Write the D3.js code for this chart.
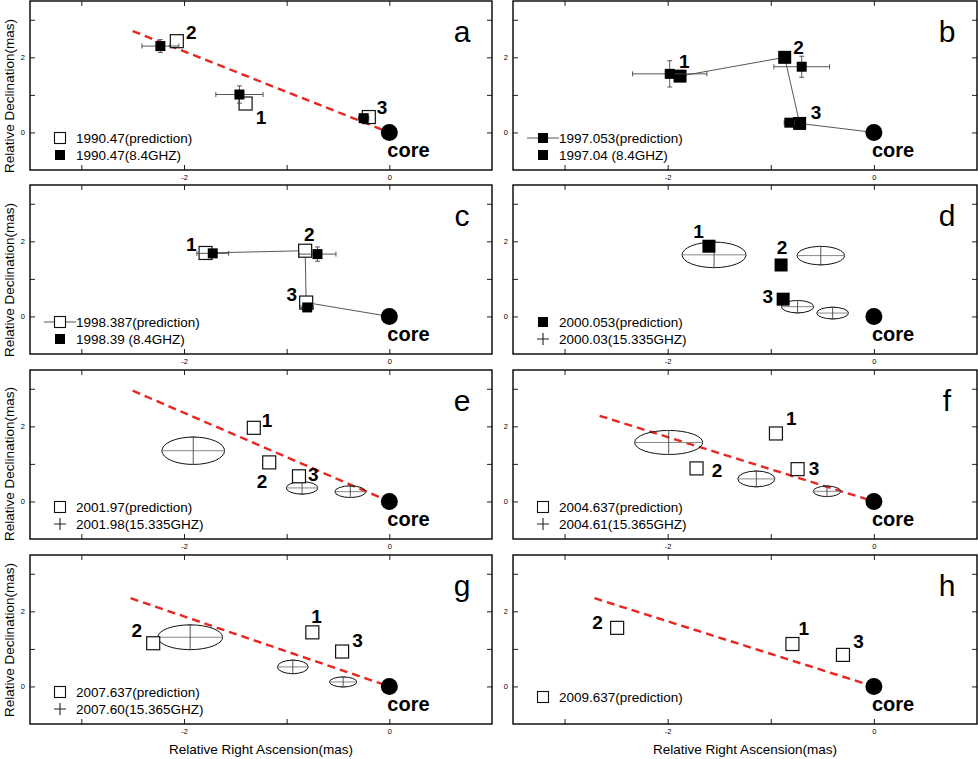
<!DOCTYPE html>
<html>
<head>
<meta charset="utf-8">
<script src="https://cdn.jsdelivr.net/npm/d3@7"></script>
<style>
  body { margin: 0; background: #fff; }
  svg { display: block; font-family: "Liberation Sans", Arial, sans-serif; }
</style>
</head>
<body>
<svg width="978" height="759"></svg>
<script>
// ---- data (mas) ----
const panelIds = ["a", "b", "c", "d", "e", "f", "g", "h"];

const xTickVals = [-3, -2, -1, 0];
const xTickText = ["", "-2", "", "0"];
const yTickVals = [0, 1, 2, 3];
const yTickText = ["0", "", "2", ""];

// prediction positions of components 1,2,3  [x, y]
const predA = [[-1.40, 0.77], [-2.07, 2.43], [-0.20, 0.41]];
const predB = [[-1.88, 1.50], [-0.865, 2.00], [-0.72, 0.24]];
const predC = [[-1.79, 1.69], [-0.82, 1.75], [-0.81, 0.37]];
const predD = [[-1.60, 1.87], [-0.90, 1.37], [-0.88, 0.46]];
const predE = [[-1.32, 1.96], [-1.17, 1.04], [-0.88, 0.67]];
const predF = [[-0.95, 1.81], [-1.72, 0.88], [-0.74, 0.86]];
const predG = [[-0.75, 1.44], [-2.30, 1.15], [-0.46, 0.93]];
const predH = [[-0.79, 1.13], [-2.49, 1.56], [-0.30, 0.84]];

// 8.4 GHz measured positions  [x, y, xErr, yErr]
const obsA = [[-1.46, 1.01, 0.23, 0.23], [-2.23, 2.30, 0.18, 0.17], [-0.25, 0.38, 0.05, 0.03]];
const obsB = [[-1.98, 1.56, 0.36, 0.35], [-0.70, 1.75, 0.27, 0.28], [-0.82, 0.26, 0.05, 0.03]];
const obsC = [[-1.72, 1.68, 0.155, 0.05], [-0.70, 1.66, 0.18, 0.19], [-0.80, 0.24, 0.06, 0.03]];

// 15 GHz components  [x, y, xErr, yErr]
const ellD = [[-1.55, 1.64, 0.31, 0.34], [-0.515, 1.62, 0.23, 0.245], [-0.74, 0.26, 0.157, 0.165], [-0.40, 0.09, 0.154, 0.156]];
const ellE = [[-1.91, 1.35, 0.305, 0.365], [-0.85, 0.36, 0.154, 0.165], [-0.38, 0.26, 0.15, 0.155]];
const ellF = [[-1.99, 1.57, 0.33, 0.32], [-1.14, 0.60, 0.18, 0.21], [-0.455, 0.27, 0.133, 0.14]];
const ellG = [[-1.94, 1.31, 0.316, 0.33], [-0.94, 0.52, 0.15, 0.18], [-0.45, 0.12, 0.133, 0.133]];

// component labels  [text, x, y]
const labA = [["1", -1.25, 0.41], ["2", -1.93, 2.67], ["3", -0.07, 0.69]];
const labB = [["1", -1.84, 1.90], ["2", -0.73, 2.28], ["3", -0.56, 0.55]];
const labC = [["1", -1.93, 1.93], ["2", -0.78, 2.20], ["3", -0.95, 0.61]];
const labD = [["1", -1.70, 2.28], ["2", -0.89, 1.86], ["3", -1.03, 0.55]];
const labE = [["1", -1.19, 2.18], ["2", -1.24, 0.55], ["3", -0.74, 0.73]];
const labF = [["1", -0.80, 2.21], ["2", -1.52, 0.84], ["3", -0.58, 0.88]];
const labG = [["1", -0.71, 1.88], ["2", -2.46, 1.50], ["3", -0.31, 1.24]];
const labH = [["1", -0.68, 1.56], ["2", -2.68, 1.71], ["3", -0.15, 1.20]];

// dashed jet direction lines
const jetA = [[-2.50, 2.70], [0, 0]];
const jetE = [[-2.50, 2.95], [0, 0]];
const jetF = [[-2.66, 2.28], [0, 0]];
const jetG = [[-2.52, 2.35], [0, 0]];
const jetH = [[-2.71, 2.35], [0, 0]];

const legA = ["1990.47(prediction)", "1990.47(8.4GHZ)"];
const legB = ["1997.053(prediction)", "1997.04 (8.4GHZ)"];
const legC = ["1998.387(prediction)", "1998.39 (8.4GHZ)"];
const legD = ["2000.053(prediction)", "2000.03(15.335GHZ)"];
const legE = ["2001.97(prediction)", "2001.98(15.335GHZ)"];
const legF = ["2004.637(prediction)", "2004.61(15.365GHZ)"];
const legG = ["2007.637(prediction)", "2007.60(15.365GHZ)"];
const legH = ["2009.637(prediction)"];

// per panel options built from the arrays above
const panels = [
  { id: "a", pred: predA, predFill: false, obs: obsA, lab: labA, jet: jetA, leg: legA, legType: ["open", "filled"] },
  { id: "b", pred: predB, predFill: true, obs: obsB, lab: labB, chain: true, leg: legB, legType: ["filledLine", "filled"] },
  { id: "c", pred: predC, predFill: false, obs: obsC, lab: labC, chain: true, leg: legC, legType: ["openLine", "filled"] },
  { id: "d", pred: predD, predFill: true, ell: ellD, lab: labD, leg: legD, legType: ["filled", "cross"] },
  { id: "e", pred: predE, predFill: false, ell: ellE, lab: labE, jet: jetE, leg: legE, legType: ["open", "cross"] },
  { id: "f", pred: predF, predFill: false, ell: ellF, lab: labF, jet: jetF, leg: legF, legType: ["open", "cross"] },
  { id: "g", pred: predG, predFill: false, ell: ellG, lab: labG, jet: jetG, leg: legG, legType: ["open", "cross"] },
  { id: "h", pred: predH, predFill: false, lab: labH, jet: jetH, leg: legH, legType: ["open"], legRow: [147] }
];

// ---- layout ----
const svg = d3.select("svg");
const colX = [[30, 492], [513, 977]];
const rowTop = [1, 185, 370, 555];
const panelH = 169;
const yTitleMid = [95, 95, 94, 85];
const ink = "#111";
const barColor = "#444";

panels.forEach((p, i) => {
  const col = i % 2, row = Math.floor(i / 2);
  const x = d3.scaleLinear().domain([-3.5, 1]).range(colX[col]);
  const y = d3.scaleLinear().domain([-1, 3.5]).range([rowTop[row] + panelH, rowTop[row]]);
  const g = svg.append("g");

  // axes, ticks pointing inward on all four sides
  const axB = g.append("g").attr("transform", `translate(0,${y(-1)})`)
    .call(d3.axisBottom(x).tickValues(xTickVals).tickSize(-5).tickPadding(5)
      .tickFormat((d, k) => xTickText[k]));
  const axT = g.append("g").attr("transform", `translate(0,${y(3.5)})`)
    .call(d3.axisTop(x).tickValues(xTickVals).tickSize(-5).tickFormat(""));
  const axL = g.append("g").attr("transform", `translate(${x(-3.5)},0)`)
    .call(d3.axisLeft(y).tickValues(yTickVals).tickSize(-5).tickPadding(5)
      .tickFormat((d, k) => yTickText[k]));
  const axR = g.append("g").attr("transform", `translate(${x(1)},0)`)
    .call(d3.axisRight(y).tickValues(yTickVals).tickSize(-5).tickFormat(""));
  [axB, axT, axL, axR].forEach(a => {
    a.select(".domain").remove();
    a.attr("font-family", null).attr("font-size", 7.5);
    a.selectAll("line").attr("stroke", "#222").attr("stroke-width", 1);
    a.selectAll("text").attr("fill", "#000");
  });

  g.append("rect")
    .attr("x", x(-3.5)).attr("y", y(3.5))
    .attr("width", x(1) - x(-3.5)).attr("height", y(-1) - y(3.5))
    .attr("fill", "none").attr("stroke", "#000").attr("stroke-width", 1.4);

  // jet direction
  if (p.jet) {
    g.append("path")
      .attr("d", d3.line().x(d => x(d[0])).y(d => y(d[1]))(p.jet))
      .attr("fill", "none").attr("stroke", "#e8261f")
      .attr("stroke-width", 2.4).attr("stroke-dasharray", "8,5");
  }

  // chain through predictions to the core
  if (p.chain) {
    const pts = p.pred.concat([[0, 0]]);
    g.append("path")
      .attr("d", d3.line().x(d => x(d[0])).y(d => y(d[1]))(pts))
      .attr("fill", "none").attr("stroke", "#444").attr("stroke-width", 0.9);
  }

  // 15 GHz ellipses with error crosses
  (p.ell || []).forEach(e => {
    const cx = x(e[0]), cy = y(e[1]);
    const rx = x(e[0] + e[2]) - cx, ry = cy - y(e[1] + e[3]);
    g.append("ellipse").attr("cx", cx).attr("cy", cy).attr("rx", rx).attr("ry", ry)
      .attr("fill", "none").attr("stroke", ink).attr("stroke-width", 1);
    g.append("line").attr("x1", cx - rx).attr("x2", cx + rx).attr("y1", cy).attr("y2", cy)
      .attr("stroke", "#888").attr("stroke-width", 1);
    g.append("line").attr("x1", cx).attr("x2", cx).attr("y1", cy - ry).attr("y2", cy + ry)
      .attr("stroke", barColor).attr("stroke-width", 0.9);
    [cy - ry, cy + ry].forEach(v => g.append("line")
      .attr("x1", cx - 2.5).attr("x2", cx + 2.5).attr("y1", v).attr("y2", v)
      .attr("stroke", barColor).attr("stroke-width", 0.9));
  });

  // prediction squares
  p.pred.forEach(d => {
    g.append("rect")
      .attr("x", x(d[0]) - 6.5).attr("y", y(d[1]) - 6.5)
      .attr("width", 13).attr("height", 13)
      .attr("fill", p.predFill ? "#000" : "#fff")
      .attr("stroke", p.predFill ? "none" : ink).attr("stroke-width", 1.2);
  });

  // 8.4 GHz measurements with error bars
  (p.obs || []).forEach(o => {
    const cx = x(o[0]), cy = y(o[1]);
    const x0 = x(o[0] - o[2]), x1 = x(o[0] + o[2]);
    const y0 = y(o[1] + o[3]), y1 = y(o[1] - o[3]);
    g.append("line").attr("x1", x0).attr("x2", x1).attr("y1", cy).attr("y2", cy)
      .attr("stroke", barColor).attr("stroke-width", 0.9);
    g.append("line").attr("x1", cx).attr("x2", cx).attr("y1", y0).attr("y2", y1)
      .attr("stroke", barColor).attr("stroke-width", 0.9);
    [x0, x1].forEach(v => g.append("line").attr("x1", v).attr("x2", v)
      .attr("y1", cy - 2.5).attr("y2", cy + 2.5).attr("stroke", barColor).attr("stroke-width", 0.9));
    [y0, y1].forEach(v => g.append("line").attr("y1", v).attr("y2", v)
      .attr("x1", cx - 2.5).attr("x2", cx + 2.5).attr("stroke", barColor).attr("stroke-width", 0.9));
    g.append("rect").attr("x", cx - 5).attr("y", cy - 5)
      .attr("width", 10).attr("height", 10).attr("fill", "#000");
  });

  // component numbers
  p.lab.forEach(l => {
    g.append("text").attr("x", x(l[1])).attr("y", y(l[2]) + 7)
      .attr("text-anchor", "middle").attr("font-size", 19).attr("font-weight", "bold")
      .text(l[0]);
  });

  // core
  g.append("circle").attr("cx", x(0)).attr("cy", y(0)).attr("r", 8.5).attr("fill", "#000");
  g.append("text").attr("x", x(0) - 2).attr("y", y(0) + 25)
    .attr("font-size", 20).attr("font-weight", "bold").text("core");

  // panel letter
  g.append("text").attr("x", x(1) - 30).attr("y", rowTop[row] + 41)
    .attr("text-anchor", "middle").attr("font-size", 30).text(p.id);

  // legend
  const lx = x(-3.5) + 30, tx = x(-3.5) + 46;
  const rows = p.legRow || [142, 159];
  p.leg.forEach((t, k) => {
    const ly = rowTop[row] + rows[k];
    const my = ly - 5;
    const type = p.legType[k];
    if (type.endsWith("Line")) {
      g.append("line").attr("x1", lx - 16).attr("x2", lx + 16).attr("y1", my).attr("y2", my)
        .attr("stroke", "#444").attr("stroke-width", 0.9);
    }
    if (type.startsWith("open")) {
      g.append("rect").attr("x", lx - 5.5).attr("y", my - 5.5).attr("width", 11).attr("height", 11)
        .attr("fill", "#fff").attr("stroke", ink).attr("stroke-width", 1.1);
    } else if (type.startsWith("filled")) {
      g.append("rect").attr("x", lx - 5).attr("y", my - 5).attr("width", 10).attr("height", 10)
        .attr("fill", "#000");
    } else {
      g.append("path").attr("d", `M${lx - 6},${my}H${lx + 6}M${lx},${my - 6}V${lx + 6 - lx + my}`)
        .attr("stroke", "#222").attr("stroke-width", 1.1);
    }
    g.append("text").attr("x", tx).attr("y", ly).attr("font-size", 13.5).text(t);
  });

  // axis titles
  if (col === 0) {
    const cy = rowTop[row] + yTitleMid[row];
    g.append("text").attr("transform", `translate(14,${cy}) rotate(-90)`)
      .attr("text-anchor", "middle").attr("font-size", 13.5).text("Relative Declination(mas)");
  }
  if (row === 3) {
    g.append("text").attr("x", (colX[col][0] + colX[col][1]) / 2).attr("y", 754)
      .attr("text-anchor", "middle").attr("font-size", 13.5).text("Relative Right Ascension(mas)");
  }
});
</script>
</body>
</html>
